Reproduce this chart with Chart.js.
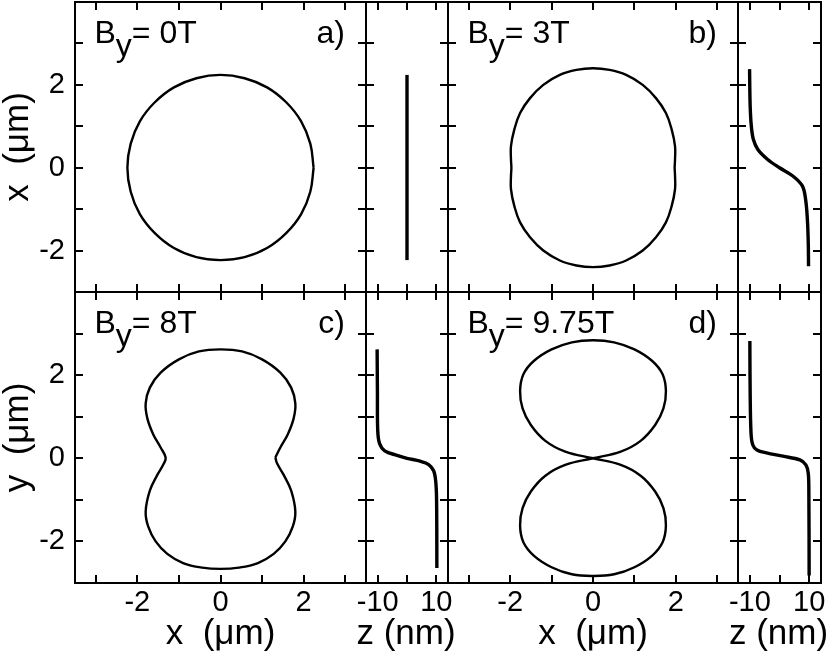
<!DOCTYPE html>
<html>
<head>
<meta charset="utf-8">
<script src="https://cdn.jsdelivr.net/npm/chart.js@4.4.1/dist/chart.umd.min.js"></script>
<style>
  html, body { margin: 0; padding: 0; background: #fff; }
  #wrap { position: relative; width: 830px; height: 656px; }
  #wrap canvas { position: absolute; left: 0; top: 0; }
</style>
</head>
<body>
<div id="wrap">
  <canvas id="pa" width="830" height="656"></canvas>
  <canvas id="za" width="830" height="656"></canvas>
  <canvas id="pb" width="830" height="656"></canvas>
  <canvas id="zb" width="830" height="656"></canvas>
  <canvas id="pc" width="830" height="656"></canvas>
  <canvas id="zc" width="830" height="656"></canvas>
  <canvas id="pd" width="830" height="656"></canvas>
  <canvas id="zd" width="830" height="656"></canvas>
</div>
<script>
// ticks (um for orbits, nm for z)
const orbitXTicks = [-3, -2, -1, 0, 1, 2, 3];
const orbitYTicks = [-2, -1, 0, 1, 2, 3];
const orbitLabels = [-2, 0, 2];
const zTicks = [-10, 0, 10];
const zLabels = [-10, 10];

const fields = ['0T', '3T', '8T', '9.75T'];
const tags = ['a)', 'b)', 'c)', 'd)'];

// a) By = 0T
const orbitAX = [2.24, 2.16, 1.94, 1.58, 1.12, 0.58, 0, -0.58, -1.12, -1.58, -1.94, -2.16, -2.24,
  -2.16, -1.94, -1.58, -1.12, -0.58, 0, 0.58, 1.12, 1.58, 1.94, 2.16, 2.24];
const orbitAY = [0, 0.58, 1.12, 1.58, 1.94, 2.16, 2.24, 2.16, 1.94, 1.58, 1.12, 0.58, 0,
  -0.58, -1.12, -1.58, -1.94, -2.16, -2.23, -2.16, -1.94, -1.58, -1.12, -0.58, 0];
const zAZ = [0, 0];
const zAY = [2.24, -2.23];

// b) By = 3T
const orbitBX = [1.97, 1.98, 1.98, 1.9, 1.76, 1.52, 1.2, 0.8, 0.4, 0, -0.4, -0.8, -1.2, -1.52, -1.76, -1.9, -1.98, -1.98, -1.97,
  -1.98, -1.98, -1.9, -1.76, -1.52, -1.2, -0.8, -0.4, 0, 0.4, 0.8, 1.2, 1.52, 1.76, 1.9, 1.98, 1.98, 1.97];
const orbitBY = [0, 0.2, 0.52, 0.92, 1.32, 1.68, 2.0, 2.24, 2.36, 2.4, 2.36, 2.24, 2.0, 1.68, 1.32, 0.92, 0.52, 0.2, 0,
  -0.2, -0.52, -0.92, -1.32, -1.68, -2.0, -2.24, -2.36, -2.4, -2.36, -2.24, -2.0, -1.68, -1.32, -0.92, -0.52, -0.2, 0];
const zBZ = [-10.1, -9.9, -9.5, -8.8, -7.3, -4.0, 0, 4.5, 7.7, 8.8, 9.4, 9.7, 9.8];
const zBY = [2.38, 1.5, 1.0, 0.68, 0.44, 0.2, 0, -0.2, -0.44, -0.76, -1.24, -1.8, -2.38];

// c) By = 8T
const orbitCX = [1.32, 1.44, 1.62, 1.76, 1.8, 1.7, 1.44, 1.0, 0.52, 0, -0.52, -1.0, -1.44, -1.7, -1.8, -1.76, -1.62, -1.44, -1.32,
  -1.36, -1.52, -1.7, -1.8, -1.74, -1.56, -1.28, -0.9, -0.44, 0, 0.44, 0.9, 1.28, 1.56, 1.74, 1.8, 1.7, 1.52, 1.36, 1.32];
const orbitCY = [0.02, 0.26, 0.58, 0.96, 1.32, 1.7, 2.06, 2.38, 2.57, 2.62, 2.57, 2.38, 2.06, 1.7, 1.32, 0.96, 0.58, 0.26, 0.02,
  -0.12, -0.4, -0.78, -1.28, -1.64, -2.0, -2.3, -2.52, -2.63, -2.66, -2.63, -2.52, -2.3, -2.0, -1.64, -1.28, -0.78, -0.4, -0.12, 0.02];
const zCZ = [-10.2, -10.1, -10.0, -9.4, -7.6, -3.4, 0, 4.5, 7.4, 9.1, 9.8, 10.1, 10.2];
const zCY = [2.62, 1.6, 0.68, 0.36, 0.18, 0.07, 0, -0.07, -0.15, -0.3, -0.55, -1.0, -2.64];

// d) By = 9.75T
const orbitDX = [0, -0.67, -1.15, -1.5, -1.7, -1.76, -1.68, -1.43, -1.0, -0.51, 0, 0.51, 1.0, 1.43, 1.68, 1.76, 1.7, 1.5, 1.15, 0.67, 0,
  -0.67, -1.15, -1.5, -1.7, -1.76, -1.68, -1.43, -1.0, -0.51, 0, 0.51, 1.0, 1.43, 1.68, 1.76, 1.7, 1.5, 1.15, 0.67, 0];
const orbitDY = [0, 0.16, 0.42, 0.8, 1.2, 1.62, 2.02, 2.34, 2.62, 2.79, 2.84, 2.79, 2.62, 2.34, 2.02, 1.62, 1.2, 0.8, 0.42, 0.16, 0,
  -0.16, -0.42, -0.8, -1.2, -1.62, -2.02, -2.34, -2.62, -2.79, -2.83, -2.79, -2.62, -2.34, -2.02, -1.62, -1.2, -0.8, -0.42, -0.16, 0];
const zDZ = [-10.0, -9.9, -9.6, -9.0, -7.6, -4.4, 1.2, 6.9, 8.9, 9.7, 9.9, 10.0];
const zDY = [2.82, 1.6, 0.6, 0.32, 0.2, 0.13, 0.05, -0.04, -0.16, -0.36, -0.8, -2.82];

const FONT = "'Liberation Sans', Arial, Helvetica, sans-serif";
const W = 830, H = 656;

const pts = (xs, ys) => xs.map((x, i) => ({ x: x, y: ys[i] }));

// box frame, inward ticks on all four sides, panel caption, wide z title
const framePlugin = {
  id: 'frame',
  afterDraw(chart, args, opts) {
    const { ctx, chartArea: a } = chart;
    const sx = chart.scales.x, sy = chart.scales.y;
    ctx.save();
    ctx.strokeStyle = '#000';
    ctx.lineWidth = 2;
    ctx.strokeRect(a.left, a.top, a.right - a.left, a.bottom - a.top);
    ctx.beginPath();
    sx.ticks.forEach(t => {
      const p = Math.round(sx.getPixelForValue(t.value));
      ctx.moveTo(p, a.bottom); ctx.lineTo(p, a.bottom - 8);
      ctx.moveTo(p, a.top); ctx.lineTo(p, a.top + 8);
    });
    sy.ticks.forEach(t => {
      const p = Math.round(sy.getPixelForValue(t.value));
      ctx.moveTo(a.left, p); ctx.lineTo(a.left + 8, p);
      ctx.moveTo(a.right, p); ctx.lineTo(a.right - 8, p);
    });
    ctx.stroke();

    ctx.fillStyle = '#000';
    if (opts.field) {
      ctx.font = '32px ' + FONT;
      ctx.textBaseline = 'alphabetic';
      ctx.textAlign = 'left';
      let tx = a.left + 19.5;
      const ty = a.top + 41;
      ctx.fillText('B', tx, ty);
      tx += ctx.measureText('B').width;
      ctx.fillText('y', tx, ty + 13);
      tx += ctx.measureText('y').width;
      ctx.fillText('= ' + opts.field, tx, ty);
      ctx.textAlign = 'right';
      ctx.fillText(opts.tag, a.right - 21, ty);
    }
    if (opts.zTitle) {
      // the narrow z axis would squeeze a normal scale title
      ctx.font = '35px ' + FONT;
      ctx.textAlign = 'center';
      ctx.textBaseline = 'middle';
      ctx.fillText(opts.zTitle, (a.left + a.right) / 2 - 1, H - 22);
    }
    ctx.restore();
  }
};

function axis(min, max, ticks, labels, title, size, horizontal) {
  return {
    type: 'linear',
    min: min,
    max: max,
    grid: { display: false, drawTicks: false },
    border: { display: false },
    afterBuildTicks: s => { s.ticks = ticks.map(v => ({ value: v })); },
    afterFit: s => {
      if (horizontal) s.height = size; else s.width = size;
      s.paddingLeft = 0; s.paddingRight = 0; s.paddingTop = 0; s.paddingBottom = 0;
    },
    ticks: {
      display: labels.length > 0,
      autoSkip: false,
      maxRotation: 0,
      minRotation: 0,
      padding: horizontal ? 3 : 10,
      color: '#000',
      font: { family: FONT, size: 29 },
      callback: v => labels.includes(v) ? String(v) : ''
    },
    title: {
      display: !!title,
      text: title || '',
      color: '#000',
      font: { family: FONT, size: 35, lineHeight: 1 },
      padding: horizontal ? { top: 0, bottom: 4.5 } : { top: 1, bottom: 0 }
    }
  };
}

function panel(id, box, data, o) {
  new Chart(document.getElementById(id), {
    type: 'scatter',
    data: {
      datasets: [{
        data: data,
        showLine: true,
        borderColor: '#000',
        borderWidth: o.lw,
        tension: o.tension,
        pointRadius: 0,
        pointHoverRadius: 0
      }]
    },
    options: {
      responsive: false,
      animation: false,
      devicePixelRatio: 1,
      events: [],
      layout: { padding: { left: 0, top: box.top, right: W - box.right, bottom: 0 } },
      plugins: {
        legend: { display: false },
        tooltip: { enabled: false },
        frame: { field: o.field, tag: o.tag, zTitle: o.zTitle }
      },
      scales: {
        x: axis(o.xMin, o.xMax, o.xTicks, o.xLabels, o.xTitle, H - box.bottom, true),
        y: axis(-3, 4, orbitYTicks, o.yLabels, o.yTitle, box.left, false)
      }
    },
    plugins: [framePlugin]
  });
}

const colA = { left: 75, right: 366 }, colAz = { left: 366, right: 448 };
const colB = { left: 448, right: 738 }, colBz = { left: 738, right: 821 };
const rowTop = { top: 2, bottom: 292 }, rowBot = { top: 292, bottom: 583 };
const box = (c, r) => Object.assign({}, c, r);

const orbitOpts = (i, bottom, left) => ({
  lw: 2.4, tension: 0.4, field: fields[i], tag: tags[i],
  xMin: -3.5, xMax: 3.5, xTicks: orbitXTicks,
  xLabels: bottom ? orbitLabels : [], xTitle: bottom ? 'x  (\u03bcm)' : null,
  yLabels: left ? orbitLabels : [], yTitle: left ? (bottom ? 'y  (\u03bcm)' : 'x  (\u03bcm)') : null
});
const zOpts = bottom => ({
  lw: 3.4, tension: 0.35,
  xMin: -14, xMax: 14, xTicks: zTicks,
  xLabels: bottom ? zLabels : [], xTitle: null, zTitle: bottom ? 'z (nm)' : null,
  yLabels: [], yTitle: null
});

panel('pa', box(colA, rowTop), pts(orbitAX, orbitAY), orbitOpts(0, false, true));
panel('za', box(colAz, rowTop), pts(zAZ, zAY), zOpts(false));
panel('pb', box(colB, rowTop), pts(orbitBX, orbitBY), orbitOpts(1, false, false));
panel('zb', box(colBz, rowTop), pts(zBZ, zBY), zOpts(false));
panel('pc', box(colA, rowBot), pts(orbitCX, orbitCY), orbitOpts(2, true, true));
panel('zc', box(colAz, rowBot), pts(zCZ, zCY), zOpts(true));
panel('pd', box(colB, rowBot), pts(orbitDX, orbitDY), orbitOpts(3, true, false));
panel('zd', box(colBz, rowBot), pts(zDZ, zDY), zOpts(true));
</script>
</body>
</html>
